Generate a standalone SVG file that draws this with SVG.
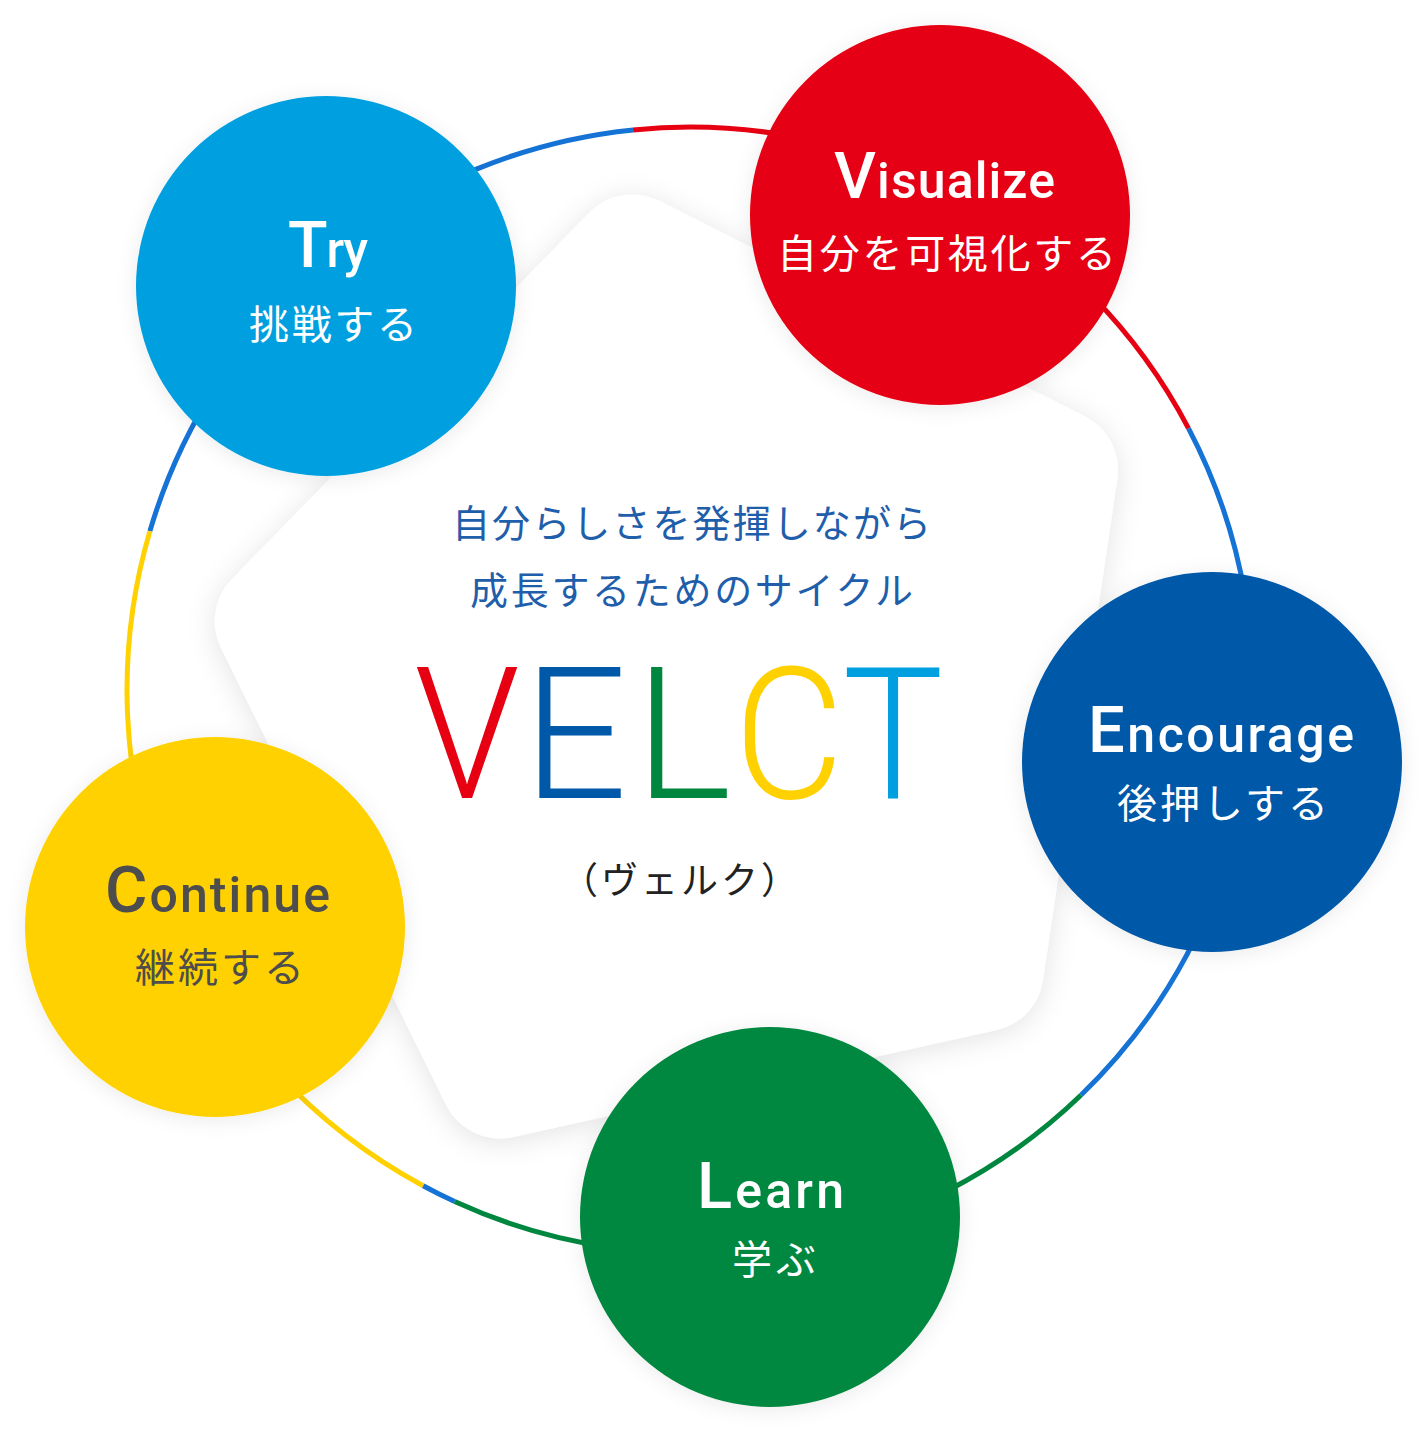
<svg xmlns="http://www.w3.org/2000/svg" width="1428" height="1432" viewBox="0 0 1428 1432">
  <style>
    .en { font-family: Roboto, "Noto Sans", "DejaVu Sans", sans-serif; font-weight: 500; fill: #ffffff; }
    .cap { font-size: 65px; }
    .low { font-size: 50px; }
    .jp { font-family: "Noto Sans CJK JP", sans-serif; font-weight: 400; fill: #ffffff; font-size: 40px; }
    .center { font-family: "Noto Sans CJK JP", sans-serif; font-weight: 400; fill: #1f5eab; font-size: 38px; }
    .logo { font-family: Roboto, "Noto Sans", sans-serif; font-weight: 300; font-size: 184px; text-anchor: middle; }
    .ring { fill: none; stroke-width: 5; }
  </style>
  <defs>
    <filter id="shadow" x="-20%" y="-20%" width="140%" height="140%">
      <feGaussianBlur in="SourceAlpha" stdDeviation="14"/>
      <feOffset dx="0" dy="4" result="b"/>
      <feFlood flood-color="#000000" flood-opacity="0.11"/>
      <feComposite in2="b" operator="in"/>
      <feMerge><feMergeNode/><feMergeNode in="SourceGraphic"/></feMerge>
    </filter>
    <filter id="cshadow" x="-20%" y="-20%" width="140%" height="140%">
      <feGaussianBlur in="SourceAlpha" stdDeviation="10"/>
      <feOffset dx="0" dy="3" result="b"/>
      <feFlood flood-color="#000000" flood-opacity="0.08"/>
      <feComposite in2="b" operator="in"/>
      <feMerge><feMergeNode/><feMergeNode in="SourceGraphic"/></feMerge>
    </filter>
  </defs>

  <rect width="1428" height="1432" fill="#ffffff"/>

  <!-- central rounded pentagon -->
  <g id="pentagon" filter="url(#shadow)">
    <polygon points="632.5,254.5 1058,470 983.6,971.5 500,1078.4 274.8,621.2" fill="#ffffff" stroke="#ffffff" stroke-width="120" stroke-linejoin="round"/>
  </g>

  <!-- ring connectors -->
  <g id="connectors">
    <path class="ring" stroke="#1673d6" d="M149.9,531.1 A563,563 0 0 1 633.1,129.9"/>
    <path class="ring" stroke="#e60012" d="M633.1,129.9 A563,563 0 0 1 1188.5,428.3"/>
    <path class="ring" stroke="#1673d6" d="M1188.5,428.3 A563,563 0 0 1 1081.1,1095.0"/>
    <path class="ring" stroke="#00873f" d="M1081.1,1095.0 A563,563 0 0 1 454.7,1201.5"/>
    <path class="ring" stroke="#1673d6" d="M454.7,1201.5 A563,563 0 0 1 423.1,1185.7"/>
    <path class="ring" stroke="#ffd100" d="M423.1,1185.7 A563,563 0 0 1 149.9,531.1"/>
  </g>

  <!-- center text -->
  <g id="center-text">
    <text class="center" x="452" y="537" textLength="479" lengthAdjust="spacing">自分らしさを発揮しながら</text>
    <text class="center" x="470" y="604" textLength="443" lengthAdjust="spacing">成長するためのサイクル</text>
    <text class="logo" transform="translate(467,798) scale(0.93,1)" fill="#e60012">V</text>
    <text class="logo" x="575" y="798" fill="#0058a9">E</text>
    <text class="logo" x="683" y="798" fill="#00873f">L</text>
    <text class="logo" transform="translate(789,798) scale(0.92,1)" fill="#ffd100">C</text>
    <text class="logo" transform="translate(893,798) scale(0.92,1)" fill="#009fe0">T</text>
    <text x="681" y="894" text-anchor="middle" font-family="'Noto Sans CJK JP', sans-serif" font-size="37" letter-spacing="3" fill="#222222">（ヴェルク）</text>
  </g>

  <!-- nodes -->
  <g id="node-try">
    <circle cx="326" cy="286" r="190" fill="#009fe0" filter="url(#cshadow)"/>
    <text class="en" x="288" y="267" textLength="80" lengthAdjust="spacing"><tspan class="cap">T</tspan><tspan class="low">ry</tspan></text>
    <text class="jp" x="249" y="339" textLength="168" lengthAdjust="spacing">挑戦する</text>
  </g>

  <g id="node-visualize">
    <circle cx="940" cy="215" r="190" fill="#e60012" filter="url(#cshadow)"/>
    <text class="en" x="834" y="198" textLength="221" lengthAdjust="spacing"><tspan class="cap">V</tspan><tspan class="low">isualize</tspan></text>
    <text class="jp" x="777" y="268" textLength="339" lengthAdjust="spacing">自分を可視化する</text>
  </g>

  <g id="node-encourage">
    <circle cx="1212" cy="762" r="190" fill="#0058a9" filter="url(#cshadow)"/>
    <text class="en" x="1088" y="752" textLength="266" lengthAdjust="spacing"><tspan class="cap">E</tspan><tspan class="low">ncourage</tspan></text>
    <text class="jp" x="1117" y="818" textLength="211" lengthAdjust="spacing">後押しする</text>
  </g>

  <g id="node-learn">
    <circle cx="770" cy="1217" r="190" fill="#00873f" filter="url(#cshadow)"/>
    <text class="en" x="697" y="1208" textLength="147" lengthAdjust="spacing"><tspan class="cap">L</tspan><tspan class="low">earn</tspan></text>
    <text class="jp" x="732" y="1274" textLength="84" lengthAdjust="spacing">学ぶ</text>
  </g>

  <g id="node-continue">
    <circle cx="215" cy="927" r="190" fill="#ffd100" filter="url(#cshadow)"/>
    <text class="en" x="105" y="912" textLength="225" lengthAdjust="spacing" style="fill:#4d4d4d"><tspan class="cap">C</tspan><tspan class="low">ontinue</tspan></text>
    <text class="jp" x="135" y="982" textLength="169" lengthAdjust="spacing" style="fill:#4d4d4d">継続する</text>
  </g>
</svg>
